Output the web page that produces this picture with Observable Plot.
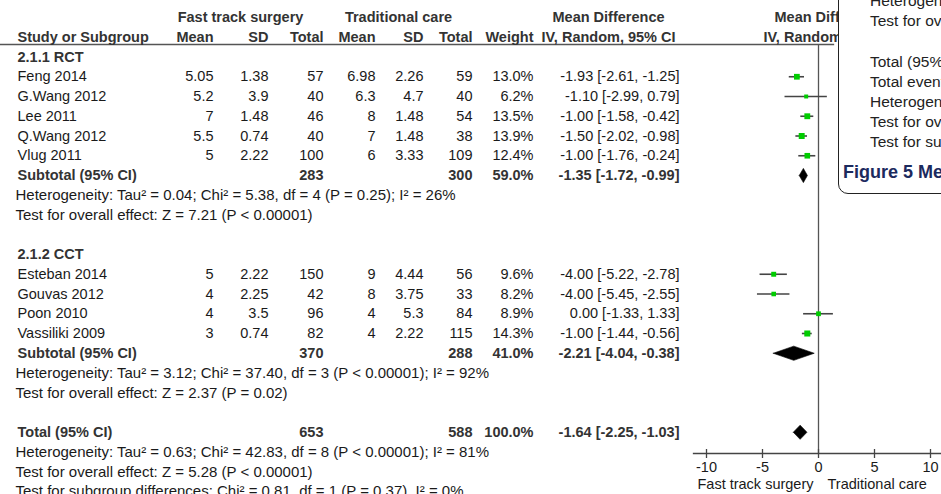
<!DOCTYPE html>
<html>
<head>
<meta charset="utf-8">
<script src="https://cdn.jsdelivr.net/npm/d3@7"></script>
<script src="https://cdn.jsdelivr.net/npm/@observablehq/plot@0.6"></script>
<style>
  html, body { margin: 0; padding: 0; background: #fff; }
  #chart { position: relative; width: 941px; height: 494px; overflow: hidden;
           font-family: "Liberation Sans", Arial, sans-serif; }
  #chart svg { position: absolute; left: 0; top: 0; }
  #inset { position: absolute; left: 838px; top: -20px; width: 140px; height: 214px;
           box-sizing: border-box; border: 1.5px solid #222; border-radius: 0 0 0 10px;
           background: #fff; }
  .inset-line { position: absolute; left: 870px; white-space: nowrap; font-size: 15.5px;
                line-height: 20px; color: #222; }
  .inset-caption { position: absolute; left: 843px; white-space: nowrap; font-size: 18px;
                   line-height: 22px; font-weight: bold; color: #1c2a5e; }
</style>
</head>
<body>
<div id="chart"></div>
<script>
// ---- data -------------------------------------------------------------
const subgroups = ["2.1.1 RCT", "2.1.2 CCT"];
const studies = ["Feng 2014", "G.Wang 2012", "Lee 2011", "Q.Wang 2012", "Vlug 2011",
                 "Esteban 2014", "Gouvas 2012", "Poon 2010", "Vassiliki 2009"];
const studyGroup = [0, 0, 0, 0, 0, 1, 1, 1, 1];
const ftMean  = [5.05, 5.2, 7, 5.5, 5, 5, 4, 4, 3];
const ftSD    = [1.38, 3.9, 1.48, 0.74, 2.22, 2.22, 2.25, 3.5, 0.74];
const ftTotal = [57, 40, 46, 40, 100, 150, 42, 96, 82];
const tcMean  = [6.98, 6.3, 8, 7, 6, 9, 8, 4, 4];
const tcSD    = [2.26, 4.7, 1.48, 1.48, 3.33, 4.44, 3.75, 5.3, 2.22];
const tcTotal = [59, 40, 54, 38, 109, 56, 33, 84, 115];
const weights = [13.0, 6.2, 13.5, 13.9, 12.4, 9.6, 8.2, 8.9, 14.3];
const meanDiff = [-1.93, -1.10, -1.00, -1.50, -1.00, -4.00, -4.00, 0.00, -1.00];
const ciLow    = [-2.61, -2.99, -1.58, -2.02, -1.76, -5.22, -5.45, -1.33, -1.44];
const ciHigh   = [-1.25, 0.79, -0.42, -0.98, -0.24, -2.78, -2.55, 1.33, -0.56];

const pooledLabels  = ["Subtotal (95% CI)", "Subtotal (95% CI)", "Total (95% CI)"];
const pooledFtTotal = [283, 370, 653];
const pooledTcTotal = [300, 288, 588];
const pooledWeight  = [59.0, 41.0, 100.0];
const pooledMD      = [-1.35, -2.21, -1.64];
const pooledLow     = [-1.72, -4.04, -2.25];
const pooledHigh    = [-0.99, -0.38, -1.03];

const heterogeneity = [
  "Heterogeneity: Tau² = 0.04; Chi² = 5.38, df = 4 (P = 0.25); I² = 26%",
  "Heterogeneity: Tau² = 3.12; Chi² = 37.40, df = 3 (P < 0.00001); I² = 92%",
  "Heterogeneity: Tau² = 0.63; Chi² = 42.83, df = 8 (P < 0.00001); I² = 81%"
];
const overallEffect = [
  "Test for overall effect: Z = 7.21 (P < 0.00001)",
  "Test for overall effect: Z = 2.37 (P = 0.02)",
  "Test for overall effect: Z = 5.28 (P < 0.00001)"
];
const subgroupTest = "Test for subgroup differences: Chi² = 0.81, df = 1 (P = 0.37), I² = 0%";

const groupHeaders = ["Fast track surgery", "Traditional care", "Mean Difference", "Mean Difference"];
const columnHeaders = ["Study or Subgroup", "Mean", "SD", "Total", "Mean", "SD", "Total", "Weight",
                       "IV, Random, 95% CI", "IV, Random, 95% CI"];
const axisTicks = [-10, -5, 0, 5, 10];
const favours = ["Fast track surgery", "Traditional care"];

const insetLines = ["Heterogeneity", "Test for overall effect", "", "Total (95% CI)", "Total events",
                    "Heterogeneity", "Test for overall effect", "Test for subgroup differences"];
const insetCaption = "Figure 5 Meta-analysis";

// ---- row layout -------------------------------------------------------
const fmt = v => String(v);
const fmtCI = (m, lo, hi) => `${m.toFixed(2)} [${lo.toFixed(2)}, ${hi.toFixed(2)}]`;

const headingRows = [], studyRows = [], pooledRows = [], statRows = [];
let r = 2;
subgroups.forEach((g, gi) => {
  headingRows.push({row: r++, text: g});
  studies.forEach((s, i) => {
    if (studyGroup[i] === gi) studyRows.push({
      row: r++, name: s, ftMean: fmt(ftMean[i]), ftSD: fmt(ftSD[i]), ftTotal: fmt(ftTotal[i]),
      tcMean: fmt(tcMean[i]), tcSD: fmt(tcSD[i]), tcTotal: fmt(tcTotal[i]),
      weight: weights[i].toFixed(1) + "%", ci: fmtCI(meanDiff[i], ciLow[i], ciHigh[i]),
      md: meanDiff[i], lo: ciLow[i], hi: ciHigh[i], w: weights[i]
    });
  });
  pooledRows.push({row: r++, k: gi});
  statRows.push({row: r++, text: heterogeneity[gi]});
  statRows.push({row: r++, text: overallEffect[gi]});
  r++;
});
pooledRows.push({row: r++, k: 2});
statRows.push({row: r++, text: heterogeneity[2]});
statRows.push({row: r++, text: overallEffect[2]});
statRows.push({row: r++, text: subgroupTest});

const pooled = pooledRows.map(({row, k}) => ({
  row, label: pooledLabels[k], ftTotal: fmt(pooledFtTotal[k]), tcTotal: fmt(pooledTcTotal[k]),
  weight: pooledWeight[k].toFixed(1) + "%", ci: fmtCI(pooledMD[k], pooledLow[k], pooledHigh[k]),
  md: pooledMD[k], lo: pooledLow[k], hi: pooledHigh[k]
}));

// diamond outlines for pooled estimates (half-height in row units)
const half = 0.36;
const diamonds = pooled.flatMap((p, k) => [
  {k, x: p.lo, y: p.row}, {k, x: p.md, y: p.row - half}, {k, x: p.hi, y: p.row},
  {k, x: p.md, y: p.row + half}, {k, x: p.lo, y: p.row}
]);

// ---- shared styling ---------------------------------------------------
const W = 941, H = 494;
const yScale = {domain: [0, 24], range: [17, 491], axis: null};
const FS = 14.5;
const INK = "#1a1a1a", BOLD = "#333";
const svgStyle = {fontFamily: "'Liberation Sans', Arial, sans-serif", fontSize: FS + "px",
                  background: "transparent", color: INK, overflow: "visible"};

function col(data, text, dx, {anchor = "end", bold = false, size = FS} = {}) {
  return Plot.text(data, {
    y: "row", text, frameAnchor: "left", dx, textAnchor: anchor, fontSize: size,
    fontWeight: bold ? "bold" : "normal", fill: bold ? BOLD : INK
  });
}

// column anchors (px from left edge)
const X = {name: 17, stat: 15, ftMean: 213, ftSD: 268, ftTotal: 323, tcMean: 375, tcSD: 423,
           tcTotal: 472, weight: 533, ci: 679, ftCenter: 240, tcCenter: 398, ciCenter: 608,
           plotCenter: 830};

const row0 = [{row: 0}], row1 = [{row: 1}];

const table = Plot.plot({
  width: W, height: H, marginLeft: 0, marginRight: W - 833, marginTop: 44, marginBottom: 0,
  y: yScale, style: svgStyle,
  marks: [
    Plot.frame({anchor: "top", stroke: "#555", strokeWidth: 1.3}),
    col(row0, () => groupHeaders[0], X.ftCenter, {anchor: "middle", bold: true}),
    col(row0, () => groupHeaders[1], X.tcCenter, {anchor: "middle", bold: true}),
    col(row0, () => groupHeaders[2], X.ciCenter, {anchor: "middle", bold: true}),
    col(row0, () => groupHeaders[3], X.plotCenter, {anchor: "middle", bold: true}),
    col(row1, () => columnHeaders[0], X.name, {anchor: "start", bold: true}),
    col(row1, () => columnHeaders[1], X.ftMean, {bold: true}),
    col(row1, () => columnHeaders[2], X.ftSD, {bold: true}),
    col(row1, () => columnHeaders[3], X.ftTotal, {bold: true}),
    col(row1, () => columnHeaders[4], X.tcMean, {bold: true}),
    col(row1, () => columnHeaders[5], X.tcSD, {bold: true}),
    col(row1, () => columnHeaders[6], X.tcTotal, {bold: true}),
    col(row1, () => columnHeaders[7], X.weight, {bold: true}),
    col(row1, () => columnHeaders[8], X.ciCenter, {anchor: "middle", bold: true}),
    col(row1, () => columnHeaders[9], X.plotCenter, {anchor: "middle", bold: true}),
    col(headingRows, "text", X.name, {anchor: "start", bold: true}),
    col(studyRows, "name", X.name, {anchor: "start"}),
    col(studyRows, "ftMean", X.ftMean),
    col(studyRows, "ftSD", X.ftSD),
    col(studyRows, "ftTotal", X.ftTotal),
    col(studyRows, "tcMean", X.tcMean),
    col(studyRows, "tcSD", X.tcSD),
    col(studyRows, "tcTotal", X.tcTotal),
    col(studyRows, "weight", X.weight),
    col(studyRows, "ci", X.ci),
    col(pooled, "label", X.name, {anchor: "start", bold: true}),
    col(pooled, "ftTotal", X.ftTotal, {bold: true}),
    col(pooled, "tcTotal", X.tcTotal, {bold: true}),
    col(pooled, "weight", X.weight, {bold: true}),
    col(pooled, "ci", X.ci, {bold: true}),
    col(statRows, "text", X.stat, {anchor: "start", size: 15})
  ]
});

// forest panel: x in mean-difference units, 0 at 818px, 11.2px per unit
const plotLeft = 693;
const pxPerUnit = 11.2, zeroPx = 818;
const forestTop = 44, axisPx = 453;
const forest = Plot.plot({
  width: W, height: H, marginLeft: plotLeft, marginRight: 0,
  marginTop: forestTop, marginBottom: H - axisPx,
  x: {domain: [(plotLeft - zeroPx) / pxPerUnit, (W - zeroPx) / pxPerUnit], axis: null},
  y: yScale, r: {type: "identity"}, style: svgStyle,
  marks: [
    Plot.ruleX([0], {stroke: "#555", strokeWidth: 1.3}),
    Plot.frame({anchor: "bottom", stroke: "#444", strokeWidth: 1.3}),
    Plot.tickX(axisTicks, {x: d => d, insetTop: axisPx - forestTop - 4, stroke: "#444", strokeWidth: 1.3}),
    Plot.axisX(axisTicks, {anchor: "bottom", tickSize: 5, tickPadding: 3, tickFormat: d => String(d),
                           fontSize: FS, stroke: "#444", strokeWidth: 1.3, fill: INK, label: null}),
    Plot.ruleY(studyRows, {y: "row", x1: "lo", x2: "hi", stroke: "#444", strokeWidth: 1.6}),
    Plot.dot(studyRows, {x: "md", y: "row", r: d => 0.9 * Math.sqrt(d.w), symbol: "square",
                         fill: "#00cc00", stroke: "none"}),
    Plot.line(diamonds, {x: "x", y: "y", z: "k", fill: "#000", stroke: "#000", strokeWidth: 0.6}),
    Plot.text([favours[0]], {frameAnchor: "bottom", dx: -4, dy: 35, textAnchor: "end",
                             fontSize: FS, fill: INK}),
    Plot.text([favours[1]], {frameAnchor: "bottom", dx: 10, dy: 35, textAnchor: "start",
                             fontSize: FS, fill: INK})
  ]
});

const chart = document.getElementById("chart");
chart.append(table, forest);

// clipped panel of the adjacent figure at the right edge
const inset = document.createElement("div");
inset.id = "inset";
chart.append(inset);
insetLines.forEach((t, i) => {
  if (!t) return;
  const d = document.createElement("div");
  d.className = "inset-line";
  d.style.top = (2 + i * 20 - 10 - (i >= 3 ? 0 : 1)) + "px";
  d.textContent = t;
  chart.append(d);
});
const cap = document.createElement("div");
cap.className = "inset-caption";
cap.style.top = (172 - 11) + "px";
cap.textContent = insetCaption;
chart.append(cap);
</script>
</body>
</html>
